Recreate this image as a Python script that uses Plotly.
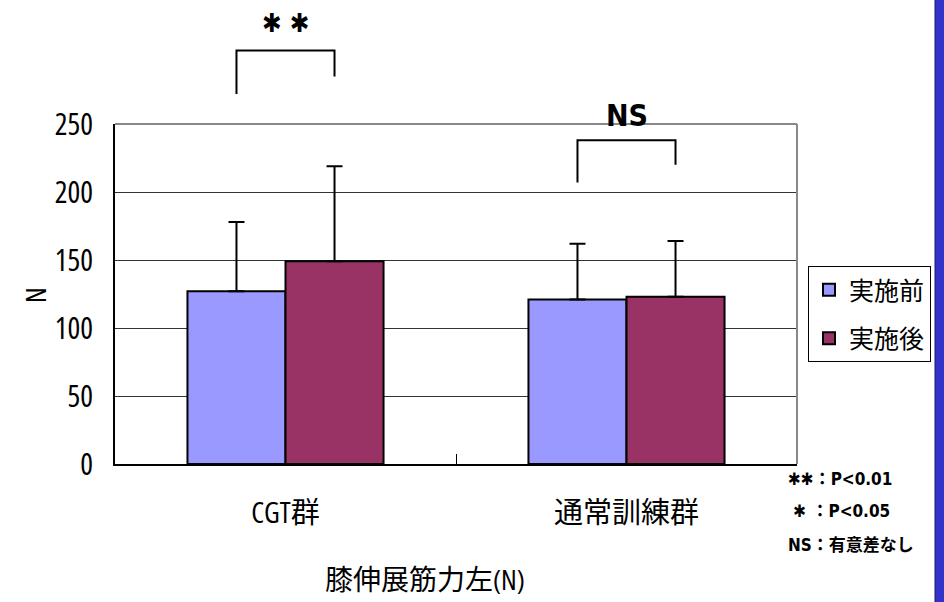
import plotly.graph_objects as go

# ---- data ----
groups = ["CGT群", "通常訓練群"]
series_names = ["実施前", "実施後"]
before_mean = [127, 121]
after_mean = [149, 123]
before_sd = [51, 41]
after_sd = [70, 41]
y_ticks = [0, 50, 100, 150, 200, 250]

# significance brackets (levels in N)
sig_labels = ["✱ ✱", "NS"]
bracket_left = [272, 207]
bracket_right = [285, 220]
bracket_top = [304, 238]
label_level = [324, 256]

note_lines = ["✱✱：P&lt;0.01", " ✱ ：P&lt;0.05", "NS：有意差なし"]
x_title = "膝伸展筋力左(N)"
y_title = "N"

# ---- styling ----
W, H = 944, 602
ML, MR, MT, MB = 115, 147, 124, 138
PW, PH = W - ML - MR, H - MT - MB
BARGAP = 0.425
Y_MAX = 250
FONT = "Open Sans, Noto Sans CJK JP, sans-serif"
C_BEFORE = "#9999FF"
C_AFTER = "#993366"


def narrow(s):
    return f'<span style="font-stretch:condensed">{s}</span>'


fig = go.Figure()
for name, mean, sd, col in [(series_names[0], before_mean, before_sd, C_BEFORE),
                            (series_names[1], after_mean, after_sd, C_AFTER)]:
    fig.add_trace(go.Bar(
        x=groups, y=mean, name=name, legendgroup=name,
        marker=dict(color=col, line=dict(color="black", width=2)),
        error_y=dict(type="data", array=sd, arrayminus=[0] * len(sd), symmetric=False,
                     color="black", thickness=2, width=8),
    ))

n = len(groups)
bar_w = (1 - BARGAP) / n / 2  # width of one bar in domain units
shapes = []
annotations = []
line_k = dict(color="black", width=2)
for i in range(n):
    c = (i + 0.5) / n
    xl, xr = c - bar_w / 2, c + bar_w / 2
    yl, yr, yt = bracket_left[i] / Y_MAX, bracket_right[i] / Y_MAX, bracket_top[i] / Y_MAX
    shapes.append(dict(type="path", xref="x domain", yref="y domain",
                       path=f"M {xl} {yl} L {xl} {yt} L {xr} {yt} L {xr} {yr}",
                       line=line_k))
    annotations.append(dict(xref="x domain", yref="y domain", x=c, y=label_level[i] / Y_MAX,
                            text=narrow(sig_labels[i]), showarrow=False,
                            font=dict(family="DejaVu Sans, " + FONT, size=26 if i == 0 else 30,
                                      color="black", weight="bold"),
                            xanchor="center", yanchor="middle"))

# frame: top and right edges in grey
shapes.append(dict(type="line", xref="x domain", yref="y domain", x0=0, x1=1, y0=1, y1=1,
                   line=dict(color="#888888", width=2)))
shapes.append(dict(type="line", xref="x domain", yref="y domain", x0=1, x1=1, y0=0, y1=1,
                   line=dict(color="#888888", width=2)))

# blue band along the right edge
shapes.append(dict(type="rect", xref="paper", yref="paper",
                   x0=(935 - ML) / PW, x1=(W + 5 - ML) / PW,
                   y0=-(MB + 5) / PH, y1=(PH + MT + 5) / PH,
                   fillcolor="#3333CC", line=dict(color="#1a1a66", width=1), layer="above"))

# significance key text
for k, (txt, ypx) in enumerate(zip(note_lines, [479, 511, 545])):
    annotations.append(dict(xref="paper", yref="paper", x=(786 - ML) / PW, y=(PH + MT - ypx) / PH,
                            xanchor="left", yanchor="middle", text=narrow(txt), showarrow=False,
                            font=dict(family="DejaVu Sans, " + FONT, size=17, color="black",
                                      weight="bold")))

# axis titles
annotations.append(dict(xref="paper", yref="paper", x=(425 - ML) / PW, y=(PH + MT - 579) / PH,
                        xanchor="center", yanchor="middle", text=narrow(x_title), showarrow=False,
                        font=dict(family=FONT, size=28, color="black")))
annotations.append(dict(xref="paper", yref="paper", x=(35 - ML) / PW, y=(PH + MT - 295) / PH,
                        xanchor="center", yanchor="middle", text=narrow(y_title), showarrow=False,
                        textangle=-90, font=dict(family=FONT, size=28, color="black")))

fig.update_layout(
    width=W, height=H,
    margin=dict(l=ML, r=MR, t=MT, b=MB, pad=0, autoexpand=False),
    paper_bgcolor="white", plot_bgcolor="white",
    barmode="group", bargap=BARGAP, bargroupgap=0,
    font=dict(family=FONT, color="black"),
    showlegend=True,
    legend=dict(x=(808 - ML) / PW, y=(PH + MT - 266) / PH, xanchor="left", yanchor="top",
                bordercolor="black", borderwidth=1, bgcolor="white",
                font=dict(family=FONT, size=25, color="black"),
                tracegroupgap=13, traceorder="grouped"),
    shapes=shapes, annotations=annotations,
)
fig.update_xaxes(type="category", tickson="boundaries", ticks="inside", ticklen=10,
                 tickwidth=1, tickcolor="black", automargin=False,
                 tickvals=groups, ticktext=[narrow(g) for g in groups],
                 showline=True, linecolor="black", linewidth=2,
                 showgrid=False, tickfont=dict(family=FONT, size=29, color="black"),
                 ticklabelstandoff=22)
fig.update_yaxes(range=[0, Y_MAX], tickvals=y_ticks, ticktext=[narrow(v) for v in y_ticks],
                 showgrid=True, gridcolor="#333333", automargin=False,
                 gridwidth=1, zeroline=False, showline=True, linecolor="black", linewidth=2,
                 ticks="", tickfont=dict(family=FONT, size=30, color="black"),
                 ticklabelstandoff=14)

fig.write_html("out.html")
